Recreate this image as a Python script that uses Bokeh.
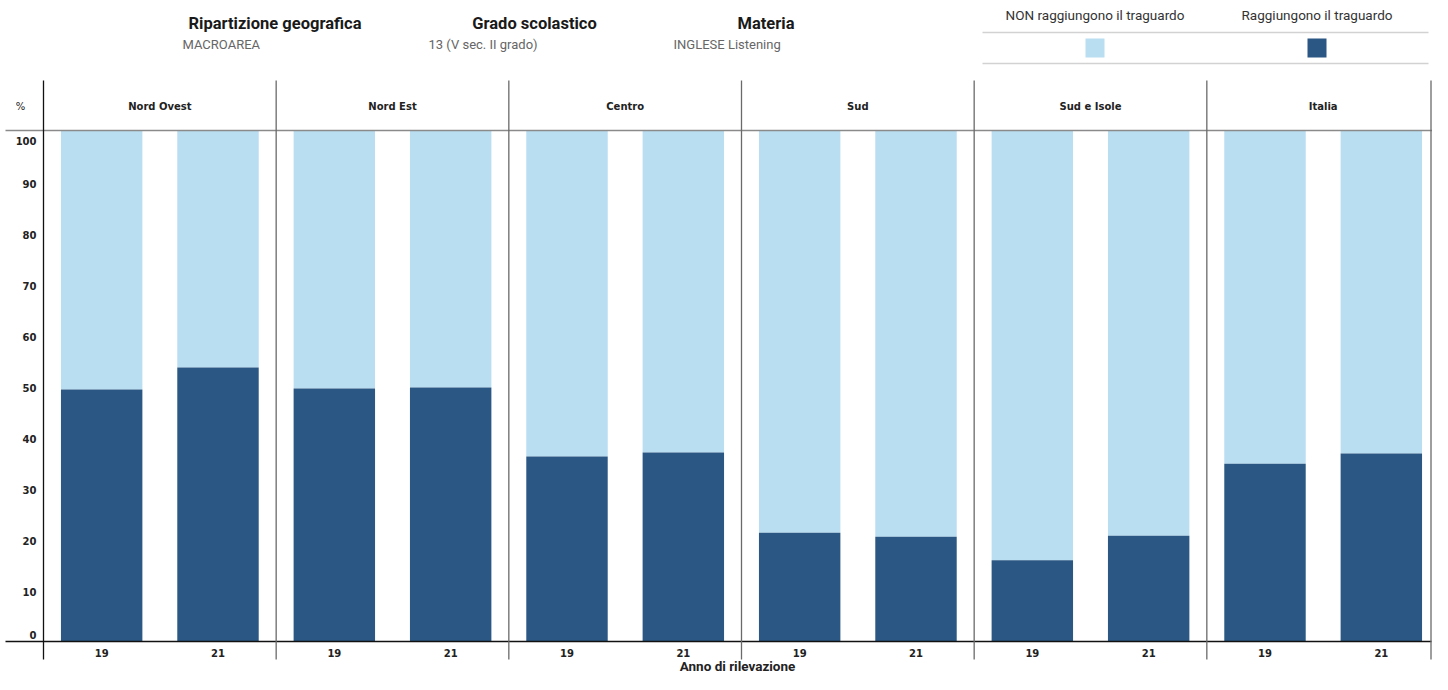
from bokeh.plotting import figure
from bokeh.models import Range1d, ColumnDataSource
from bokeh.core.properties import value
from bokeh.embed import file_html
from bokeh.resources import INLINE

# ---------------- data ----------------
regions = ["Nord Ovest", "Nord Est", "Centro", "Sud", "Sud e Isole", "Italia"]
years = ["19", "21"]
reach_19 = [49.3, 49.5, 36.2, 21.3, 15.9, 34.8]   # % Raggiungono il traguardo
reach_21 = [53.6, 49.7, 37.0, 20.5, 20.7, 36.8]
y_ticks = [0, 10, 20, 30, 40, 50, 60, 70, 80, 90, 100]
legend_labels = ["NON raggiungono il traguardo", "Raggiungono il traguardo"]
header_titles = ["Ripartizione geografica", "Grado scolastico", "Materia"]
header_values = ["MACROAREA", "13 (V sec. II grado)", "INGLESE Listening"]
x_title = "Anno di rilevazione"
y_title = "%"

DARK = "#2a5783"
LIGHT = "#b9ddf1"

# ---------------- layout helpers (pixel -> data) ----------------
W, H = 1432, 674
PX0 = 43.0
PW = (1439.0 - 43.0) / 6.0
PXY = 5.11


def X(px):
    return (px - PX0) / PW


def Y(py):
    return (641.0 - py) / PXY


p = figure(width=W, height=H, output_backend="svg", toolbar_location=None,
           x_range=Range1d(X(0), X(W)), y_range=Range1d(Y(H), Y(0)),
           min_border=0, min_border_left=0, min_border_right=0,
           min_border_top=0, min_border_bottom=0)
p.axis.visible = False
p.grid.visible = False
p.outline_line_color = None
p.background_fill_color = "white"

# ---------------- bars ----------------
bar_w = 0.35
offs = [0.25, 0.75]
xs, tops, yl = [], [], []
for i in range(len(regions)):
    for j, vals in enumerate([reach_19, reach_21]):
        xs.append(i + offs[j])
        tops.append(vals[i])
        yl.append(years[j])
src = ColumnDataSource(dict(x=xs, reach=tops, full=[100] * len(xs), year=yl))
p.vbar(x="x", width=bar_w, bottom="reach", top="full", source=src,
       fill_color=LIGHT, line_color=None)
p.vbar(x="x", width=bar_w, bottom=0, top="reach", source=src,
       fill_color=DARK, line_color=None)

# ---------------- frame lines ----------------
p.segment(x0=[X(5)], y0=[100], x1=[X(1432)], y1=[100], line_color="#8a8a8a", line_width=1.3)
p.segment(x0=[X(5)], y0=[0], x1=[X(1431)], y1=[0], line_color="#111111", line_width=1.3)
inner = list(range(1, len(regions)))
p.segment(x0=inner, y0=[Y(80)] * len(inner), x1=inner, y1=[Y(659)] * len(inner),
          line_color="#6a6a6a", line_width=1.3)
p.segment(x0=[X(1430.5)], y0=[Y(80)], x1=[X(1430.5)], y1=[Y(659)],
          line_color="#6a6a6a", line_width=1.3)
p.segment(x0=[0], y0=[Y(80)], x1=[0], y1=[Y(659)], line_color="#111111", line_width=1.3)

# ---------------- y tick labels ----------------
ylab_y = [min(max(t - 0.4, Y(634)), Y(140)) for t in y_ticks]
p.text(x=[X(36)] * len(y_ticks), y=ylab_y, text=[str(t) for t in y_ticks],
       text_align="right", text_baseline="middle", text_font=value("DejaVu Sans"),
       text_font_size="10px", text_font_style="bold", text_color="#222222")
p.text(x=[X(20)], y=[Y(106)], text=[y_title], text_align="center", text_baseline="middle",
       text_font=value("DejaVu Sans"), text_font_size="10px", text_color="#222222")

# ---------------- panel headers ----------------
p.text(x=[i + 0.5 for i in range(len(regions))], y=[Y(106)] * len(regions), text=regions,
       text_align="center", text_baseline="middle", text_font=value("DejaVu Sans"),
       text_font_size="10px", text_font_style="bold", text_color="#222222")

# ---------------- x tick labels + title ----------------
p.text(x="x", y=Y(652), text="year", source=src, text_align="center", text_baseline="middle",
       text_font=value("DejaVu Sans"), text_font_size="10px", text_font_style="bold",
       text_color="#222222")
p.text(x=[X(737)], y=[Y(665.5)], text=[x_title], text_align="center",
       text_baseline="middle", text_font=value("Roboto"), text_font_size="13.5px",
       text_font_style="bold", text_color="#222222")

# ---------------- top header ----------------
title_cx = [274.5, 534, 765.5]
value_lx = [182, 428, 673]
p.text(x=[X(c) for c in title_cx], y=[Y(23)] * 3, text=header_titles, text_align="center",
       text_baseline="middle", text_font=value("Roboto"), text_font_size="16.5px",
       text_font_style="bold", text_color="#1a1a1a")
p.text(x=[X(c) for c in value_lx], y=[Y(44)] * 3, text=header_values, text_align="left",
       text_baseline="middle", text_font=value("Roboto"), text_font_size="13px",
       text_color="#666666")

# ---------------- legend ----------------
leg_cx = [1094.5, 1316.5]
p.text(x=[X(c) for c in leg_cx], y=[Y(14)] * 2, text=legend_labels, text_align="center",
       text_baseline="middle", text_font=value("Roboto"), text_font_size="13.5px",
       text_color="#333333")
p.segment(x0=[X(982)] * 2, y0=[Y(32), Y(63)], x1=[X(1428)] * 2, y1=[Y(32), Y(63)],
          line_color="#d2d2d2", line_width=1.5)
p.scatter(x=[X(c) for c in leg_cx], y=[Y(47.5)] * 2, marker="square", size=19,
          fill_color=[LIGHT, DARK], line_color=None)

open("out.html", "w").write(file_html(p, INLINE))
